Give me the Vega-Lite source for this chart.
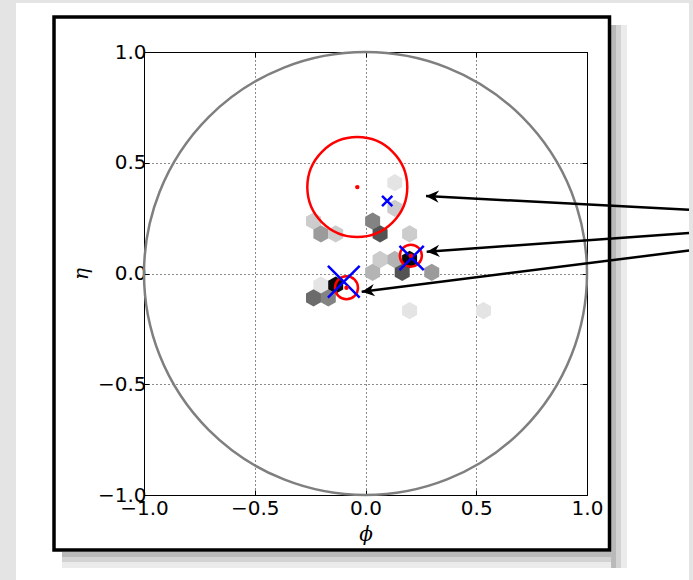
{
  "$schema": "https://vega.github.io/schema/vega-lite/v6.json",
  "width": 443,
  "height": 443,
  "autosize": {"type": "none"},
  "padding": {"left": 144, "top": 52, "right": 106, "bottom": 85},
  "background": "white",
  "config": {
    "view": {"stroke": "black", "strokeWidth": 1, "fill": "white"}
  },
  "datasets": {
    "hex": [
      {"phi": 0.1323, "eta": 0.4099, "count": 1},
      {"phi": 0.1323, "eta": 0.2944, "count": 2},
      {"phi": -0.2348, "eta": 0.2366, "count": 2},
      {"phi": 0.0321, "eta": 0.2366, "count": 5},
      {"phi": -0.2014, "eta": 0.1788, "count": 4},
      {"phi": -0.1345, "eta": 0.1788, "count": 2},
      {"phi": 0.0659, "eta": 0.1788, "count": 7},
      {"phi": 0.1991, "eta": 0.1788, "count": 2},
      {"phi": 0.0659, "eta": 0.0632, "count": 2},
      {"phi": 0.1323, "eta": 0.0632, "count": 3},
      {"phi": 0.1991, "eta": 0.0632, "count": 10},
      {"phi": 0.0321, "eta": 0.0054, "count": 3},
      {"phi": 0.1657, "eta": 0.0054, "count": 7},
      {"phi": 0.2991, "eta": 0.0054, "count": 4},
      {"phi": -0.2014, "eta": -0.0524, "count": 1},
      {"phi": -0.1345, "eta": -0.0524, "count": 10},
      {"phi": -0.2348, "eta": -0.1102, "count": 6},
      {"phi": -0.1679, "eta": -0.1102, "count": 5},
      {"phi": 0.1991, "eta": -0.1679, "count": 1},
      {"phi": 0.5327, "eta": -0.1679, "count": 1}
    ],
    "unit": [{"phi": 0, "eta": 0, "r": 1}],
    "cones": [
      {"phi": -0.037, "eta": 0.39, "r": 0.2257},
      {"phi": 0.2047, "eta": 0.0804, "r": 0.0497},
      {"phi": -0.0858, "eta": -0.0641, "r": 0.052}
    ],
    "crosses": [
      {"phi": 0.098, "eta": 0.3273, "r": 0.0233},
      {"phi": 0.2082, "eta": 0.07, "r": 0.0549},
      {"phi": -0.098, "eta": -0.037, "r": 0.0716}
    ],
    "arrows": [
      {"phi0": 1.4605, "eta0": 0.2876, "phi1": 0.2731, "eta1": 0.3499},
      {"phi0": 1.4605, "eta0": 0.1828, "phi1": 0.2763, "eta1": 0.0984},
      {"phi0": 1.4605, "eta0": 0.1038, "phi1": -0.0172, "eta1": -0.0822}
    ]
  },
  "resolve": {"axis": {"x": "independent", "y": "independent"}},
  "layer": [
    {
      "data": {"values": [{}]},
      "mark": {"type": "rect", "fill": "#e4e4e4", "clip": false},
      "encoding": {
        "x": {"datum": -1.9, "type": "quantitative", "scale": {"domain": [-1, 1], "nice": false, "zero": false}, "axis": null},
        "x2": {"datum": -1.5779},
        "y": {"datum": 1.5, "type": "quantitative", "scale": {"domain": [-1, 1], "nice": false, "zero": false}, "axis": null},
        "y2": {"datum": -1.6}
      }
    },
    {
      "data": {"values": [{}]},
      "mark": {"type": "rect", "fill": "#e4e4e4", "clip": false},
      "encoding": {
        "x": {"datum": 1.4605, "type": "quantitative", "axis": null},
        "x2": {"datum": 1.7},
        "y": {"datum": 1.5, "type": "quantitative", "axis": null},
        "y2": {"datum": -1.6}
      }
    },
    {
      "data": {"values": [{}]},
      "mark": {"type": "rect", "fill": "#e4e4e4", "clip": false},
      "encoding": {
        "x": {"datum": -1.9, "type": "quantitative", "axis": null},
        "x2": {"datum": 1.7},
        "y": {"datum": 1.5, "type": "quantitative", "axis": null},
        "y2": {"datum": 1.2212}
      }
    },
    {
      "data": {"values": [{}]},
      "mark": {"type": "rect", "fill": "black", "opacity": 0.12, "clip": false},
      "encoding": {
        "x": {"datum": -1.3702, "type": "quantitative", "axis": null},
        "x2": {"datum": 1.1084},
        "y": {"datum": -1.2573, "type": "quantitative", "axis": null},
        "y2": {"datum": -1.2799}
      }
    },
    {
      "data": {"values": [{}]},
      "mark": {"type": "rect", "fill": "black", "opacity": 0.1, "clip": false},
      "encoding": {
        "x": {"datum": -1.3702, "type": "quantitative", "axis": null},
        "x2": {"datum": 1.1084},
        "y": {"datum": -1.2573, "type": "quantitative", "axis": null},
        "y2": {"datum": -1.3025}
      }
    },
    {
      "data": {"values": [{}]},
      "mark": {"type": "rect", "fill": "black", "opacity": 0.08, "clip": false},
      "encoding": {
        "x": {"datum": -1.3702, "type": "quantitative", "axis": null},
        "x2": {"datum": 1.1084},
        "y": {"datum": -1.2573, "type": "quantitative", "axis": null},
        "y2": {"datum": -1.3296}
      }
    },
    {
      "data": {"values": [{}]},
      "mark": {"type": "rect", "fill": "black", "opacity": 0.12, "clip": false},
      "encoding": {
        "x": {"datum": 1.1084, "type": "quantitative", "axis": null},
        "x2": {"datum": 1.131},
        "y": {"datum": 1.1219, "type": "quantitative", "axis": null},
        "y2": {"datum": -1.3296}
      }
    },
    {
      "data": {"values": [{}]},
      "mark": {"type": "rect", "fill": "black", "opacity": 0.1, "clip": false},
      "encoding": {
        "x": {"datum": 1.1084, "type": "quantitative", "axis": null},
        "x2": {"datum": 1.1535},
        "y": {"datum": 1.1219, "type": "quantitative", "axis": null},
        "y2": {"datum": -1.3296}
      }
    },
    {
      "data": {"values": [{}]},
      "mark": {"type": "rect", "fill": "black", "opacity": 0.08, "clip": false},
      "encoding": {
        "x": {"datum": 1.1084, "type": "quantitative", "axis": null},
        "x2": {"datum": 1.1806},
        "y": {"datum": 1.1219, "type": "quantitative", "axis": null},
        "y2": {"datum": -1.3296}
      }
    },
    {
      "data": {"values": [{}]},
      "mark": {"type": "rect", "fillOpacity": 0, "stroke": "black", "strokeWidth": 3.5, "clip": false},
      "encoding": {
        "x": {"datum": -1.4063, "type": "quantitative", "axis": null},
        "x2": {"datum": 1.1016},
        "y": {"datum": 1.158, "type": "quantitative", "axis": null},
        "y2": {"datum": -1.2483}
      }
    },
    {
      "data": {"name": "hex"},
      "mark": {"type": "point", "shape": "M0,-1L0.866,-0.5L0.866,0.5L0,1L-0.866,0.5L-0.866,-0.5Z", "filled": true, "size": 300, "opacity": 1, "strokeWidth": 0},
      "encoding": {
        "x": {"field": "phi", "type": "quantitative", "title": "ϕ",
          "axis": {"orient": "bottom", "values": [-1, -0.5, 0, 0.5, 1], "format": ".1f", "domain": false,
            "ticks": true, "tickColor": "black", "tickSize": -5, "tickWidth": 1,
            "grid": true, "gridColor": "black", "gridDash": [1, 3], "gridOpacity": 0.9, "gridWidth": 1,
            "labelFont": "DejaVu Sans", "labelFontSize": 20, "labelColor": "black", "labelPadding": 8,
            "labelFlush": false, "labelOverlap": false, "labelBound": false,
            "titleFont": "DejaVu Serif", "titleFontStyle": "italic", "titleFontWeight": "normal", "titleFontSize": 20, "titleColor": "black", "titlePadding": 6}},
        "y": {"field": "eta", "type": "quantitative", "title": "η",
          "axis": {"orient": "left", "values": [-1, -0.5, 0, 0.5, 1], "format": ".1f", "domain": false,
            "ticks": true, "tickColor": "black", "tickSize": -5, "tickWidth": 1,
            "grid": true, "gridColor": "black", "gridDash": [1, 3], "gridOpacity": 0.9, "gridWidth": 1,
            "labelFont": "DejaVu Sans", "labelFontSize": 20, "labelColor": "black", "labelPadding": 3,
            "labelFlush": false, "labelOverlap": false, "labelBound": false,
            "titleFont": "DejaVu Serif", "titleFontStyle": "italic", "titleFontWeight": "normal", "titleFontSize": 20, "titleColor": "black", "titlePadding": 6}},
        "color": {"field": "count", "type": "quantitative", "scale": {"domain": [1, 10], "range": ["#e4e4e4", "#0a0a0a"], "interpolate": "rgb"}, "legend": null}
      }
    },
    {
      "data": {"name": "unit"},
      "mark": {"type": "point", "shape": "circle", "filled": false, "color": "#7f7f7f", "strokeWidth": 2.5, "opacity": 1},
      "encoding": {
        "x": {"field": "phi", "type": "quantitative",
          "axis": {"orient": "top", "values": [-1, -0.5, 0, 0.5, 1], "labels": false, "grid": false, "domain": false, "title": null,
            "ticks": true, "tickColor": "black", "tickSize": -5, "tickWidth": 1}},
        "y": {"field": "eta", "type": "quantitative",
          "axis": {"orient": "right", "values": [-1, -0.5, 0, 0.5, 1], "labels": false, "grid": false, "domain": false, "title": null,
            "ticks": true, "tickColor": "black", "tickSize": -5, "tickWidth": 1}},
        "size": {"field": "r", "type": "quantitative", "scale": {"type": "pow", "exponent": 2, "domain": [0, 1], "range": [0, 196249]}, "legend": null}
      }
    },
    {
      "data": {"name": "cones"},
      "mark": {"type": "point", "shape": "circle", "filled": false, "color": "#ff0000", "strokeWidth": 2.5, "opacity": 1},
      "encoding": {
        "x": {"field": "phi", "type": "quantitative", "axis": null},
        "y": {"field": "eta", "type": "quantitative", "axis": null},
        "size": {"field": "r", "type": "quantitative", "scale": {"type": "pow", "exponent": 2, "domain": [0, 1], "range": [0, 196249]}, "legend": null}
      }
    },
    {
      "data": {"name": "crosses"},
      "mark": {"type": "point", "shape": "M-1,-1L1,1M1,-1L-1,1", "filled": false, "color": "#0000ff", "strokeWidth": 2.5, "opacity": 1},
      "encoding": {
        "x": {"field": "phi", "type": "quantitative", "axis": null},
        "y": {"field": "eta", "type": "quantitative", "axis": null},
        "size": {"field": "r", "type": "quantitative", "scale": {"type": "pow", "exponent": 2, "domain": [0, 1], "range": [0, 196249]}, "legend": null}
      }
    },
    {
      "data": {"name": "cones"},
      "mark": {"type": "point", "shape": "circle", "filled": true, "color": "#ff0000", "size": 20, "opacity": 1},
      "encoding": {
        "x": {"field": "phi", "type": "quantitative", "axis": null},
        "y": {"field": "eta", "type": "quantitative", "axis": null}
      }
    },
    {
      "data": {"name": "arrows"},
      "mark": {"type": "rule", "color": "black", "strokeWidth": 2.5, "clip": false},
      "encoding": {
        "x": {"field": "phi0", "type": "quantitative", "axis": null},
        "y": {"field": "eta0", "type": "quantitative", "axis": null},
        "x2": {"field": "phi1"},
        "y2": {"field": "eta1"}
      }
    },
    {
      "data": {"name": "arrows"},
      "transform": [
        {"calculate": "(atan2(-(datum.eta1 - datum.eta0), datum.phi1 - datum.phi0) * 180 / PI + 360) % 360", "as": "ang"}
      ],
      "mark": {"type": "point", "shape": "M0,0L-2.1,-1L-1.45,0L-2.1,1Z", "filled": true, "color": "black", "size": 150, "opacity": 1},
      "encoding": {
        "x": {"field": "phi1", "type": "quantitative", "axis": null},
        "y": {"field": "eta1", "type": "quantitative", "axis": null},
        "angle": {"field": "ang", "type": "quantitative", "scale": null}
      }
    }
  ]
}
